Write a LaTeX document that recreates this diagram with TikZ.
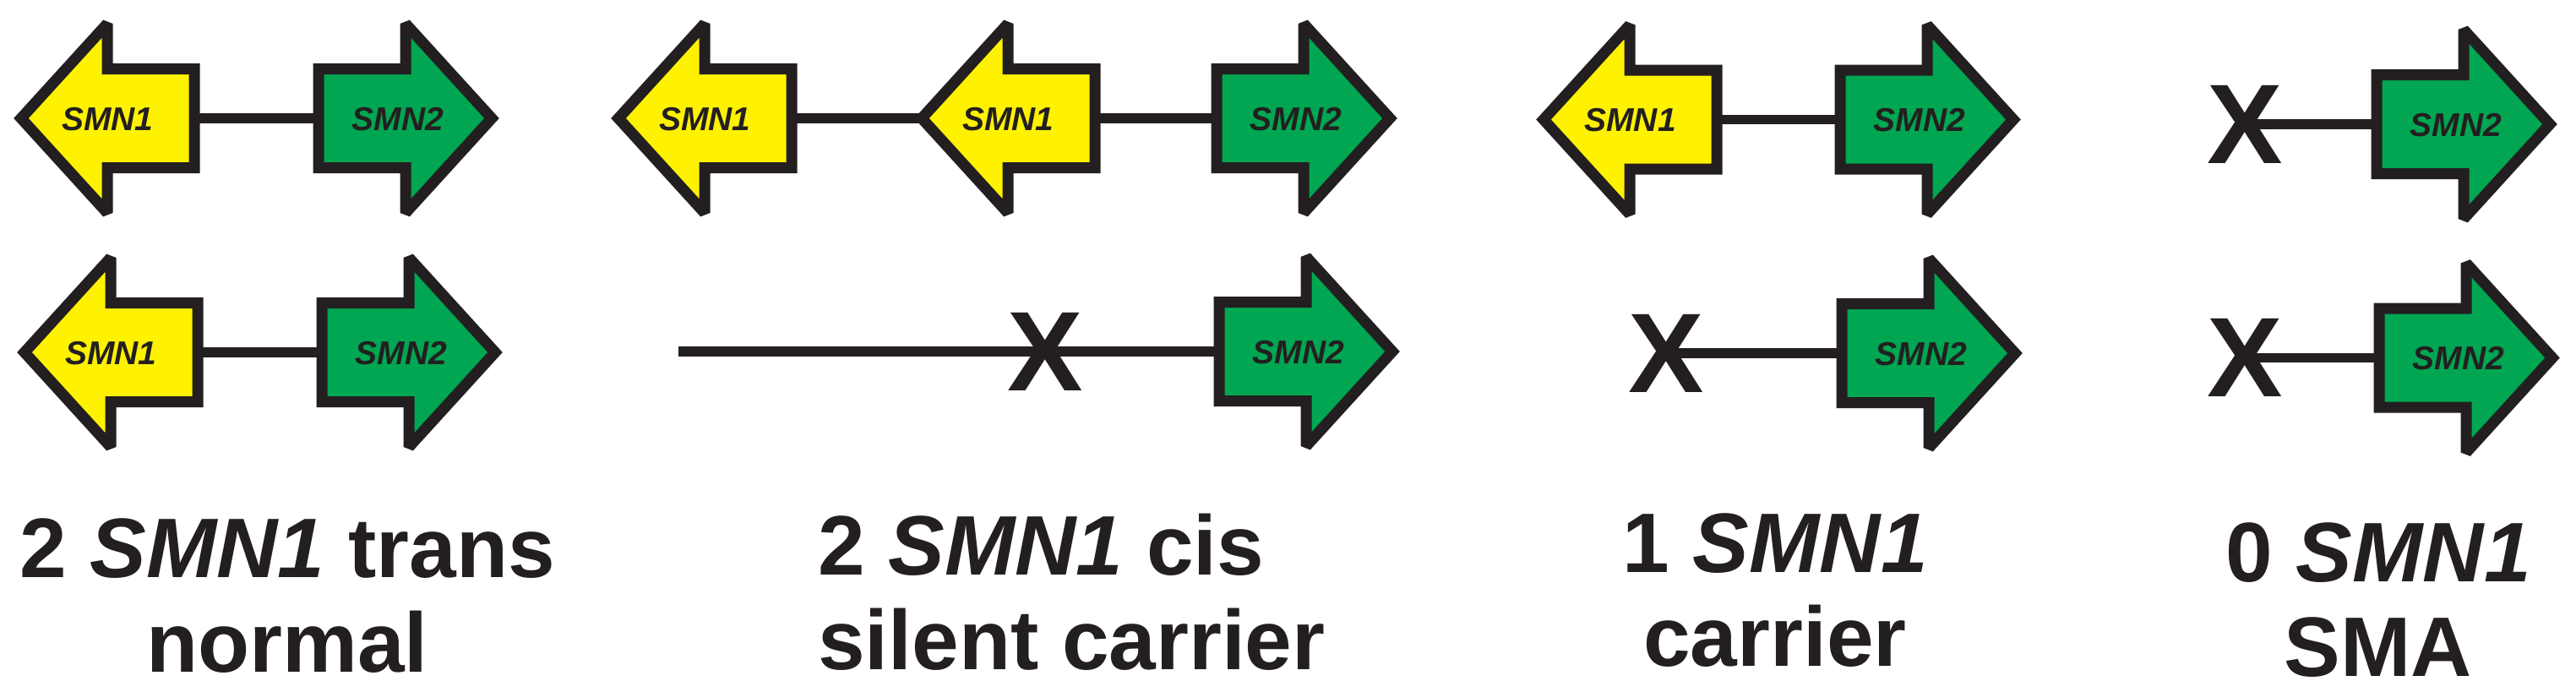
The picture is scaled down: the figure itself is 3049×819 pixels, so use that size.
\documentclass[tikz,border=0pt]{standalone}
\usepackage{fontspec}
\setmainfont{Liberation Sans}
\definecolor{smnyellow}{HTML}{FFF200}
\definecolor{smngreen}{HTML}{00A651}
\definecolor{ink}{HTML}{231F20}
\tikzset{
  geneout/.style={draw=ink, line width=13pt, line join=miter, miter limit=2},
  genelabel/.style={inner sep=0pt, anchor=base, text=ink, font=\fontsize{39}{39}\selectfont\bfseries\itshape},
  conn/.style={draw=ink, line width=11.5pt},
  xmark/.style={inner sep=0pt, text=ink, font=\fontsize{134}{134}\selectfont\bfseries},
  caption/.style={inner sep=0pt, anchor=base, text=ink, font=\fontsize{100}{112}\selectfont\bfseries},
}
% left-pointing gene: name, tip x, centre y, label
\newcommand\leftgene[4]{%
  \path[geneout, fill=smnyellow] (#2,#3) -- ++(102,-112) -- ++(0,53.5) -- ++(103,0)
    -- ++(0,117) -- ++(-103,0) -- ++(0,53.5) -- cycle;
  \node[genelabel] (#1) at (#2+102.5,#3+14) {#4};
  \coordinate (#1-r) at (#2+205,#3);
  \coordinate (#1-t) at (#2,#3);
}
% right-pointing gene: name, shaft-left x, centre y, label
\newcommand\rightgene[4]{%
  \path[geneout, fill=smngreen] (#2,#3-58.5) -- ++(103,0) -- ++(0,-53.5) -- ++(102,112)
    -- ++(-102,112) -- ++(0,-53.5) -- ++(-103,0) -- cycle;
  \node[genelabel] (#1) at (#2+94,#3+14) {#4};
  \coordinate (#1-l) at (#2,#3);
}
\begin{document}
\begin{tikzpicture}[x=1pt,y=-1pt]
\path[use as bounding box, fill=white] (0,0) rectangle (3049,819);

% ---- group 1: 2 SMN1 trans
\leftgene{a11}{25}{140}{SMN1}
\rightgene{b11}{377}{140}{SMN2}
\draw[conn] (a11-r) -- (b11-l);
\leftgene{a12}{29}{417}{SMN1}
\rightgene{b12}{381}{417}{SMN2}
\draw[conn] (a12-r) -- (b12-l);
\node[caption] (c1a) at (340,683) {2 \textit{SMN1} trans};
\node[caption] (c1b) at (340,795) {normal};

% ---- group 2: 2 SMN1 cis
\leftgene{a21}{732}{140}{SMN1}
\leftgene{m21}{1091}{140}{SMN1}
\rightgene{b21}{1440}{140}{SMN2}
\draw[conn] (a21-r) -- (m21-t);
\draw[conn] (m21-r) -- (b21-l);
\coordinate (s22) at (803,416);
\node[xmark] (x22) at (1237,416) {X};
\rightgene{b22}{1443}{416}{SMN2}
\draw[conn] (s22) -- (x22.center) -- (b22-l);
\node[caption, anchor=base west] (c2a) at (968,680) {2 \textit{SMN1} cis};
\node[caption, anchor=base west] (c2b) at (968,792) {silent carrier};

% ---- group 3: 1 SMN1
\leftgene{a31}{1827}{141.5}{SMN1}
\rightgene{b31}{2178}{141.5}{SMN2}
\draw[conn] (a31-r) -- (b31-l);
\node[xmark] (x32) at (1972,418) {X};
\rightgene{b32}{2180}{418}{SMN2}
\draw[conn] (x32.center) -- (b32-l);
\node[caption] (c3a) at (2101,677) {1 \textit{SMN1}};
\node[caption] (c3b) at (2101,788) {carrier};

% ---- group 4: 0 SMN1
\node[xmark] (x41) at (2657,147) {X};
\rightgene{b41}{2813}{147}{SMN2}
\draw[conn] (x41.center) -- (b41-l);
\node[xmark] (x42) at (2657,423.5) {X};
\rightgene{b42}{2816}{423.5}{SMN2}
\draw[conn] (x42.center) -- (b42-l);
\node[caption] (c4a) at (2815,688) {0 \textit{SMN1}};
\node[caption] (c4b) at (2815,800) {SMA};
\end{tikzpicture}
\end{document}
